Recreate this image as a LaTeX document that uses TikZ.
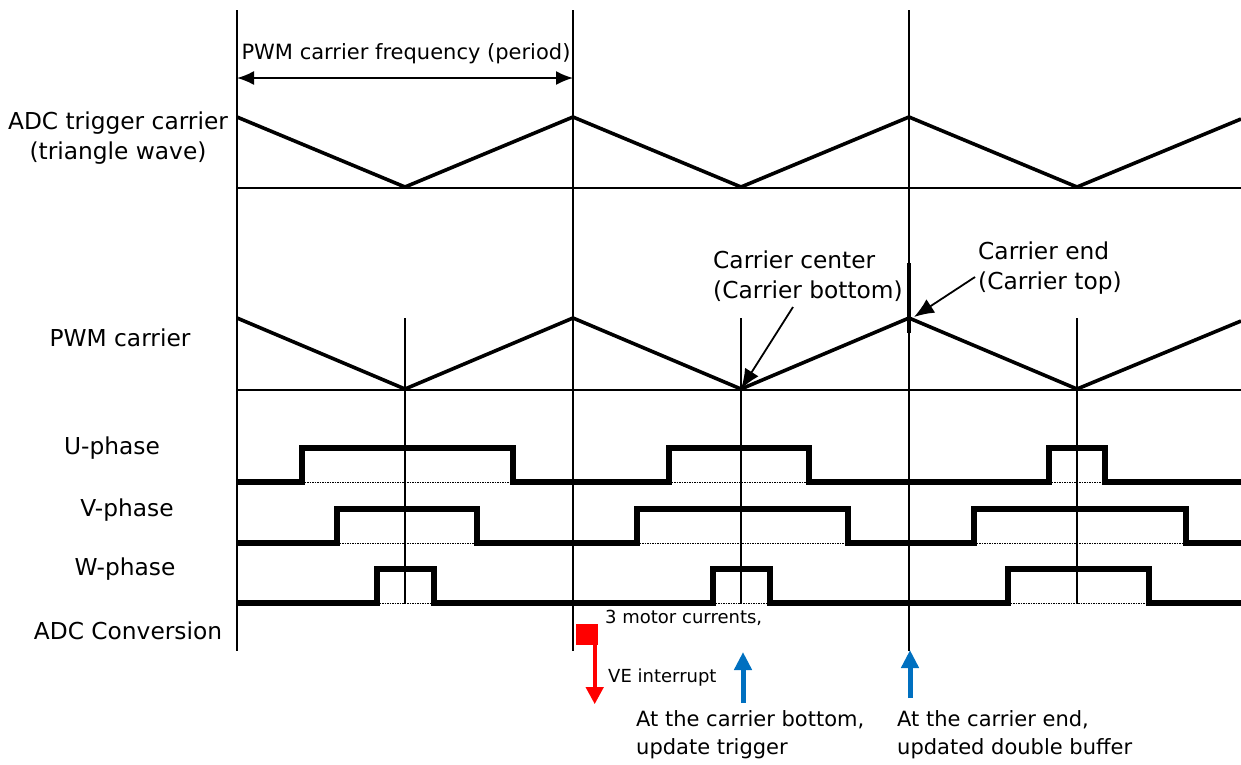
\documentclass[tikz,border=0pt]{standalone}
\usepackage{fontspec}
\setmainfont{DejaVu Sans}
\usepackage{xcolor}
\usepackage{tikz}
\usetikzlibrary{calc, arrows.meta, positioning}
\tikzset{
    guide/.style = {black, line width=1.8pt},
    wave/.style = {black, line width=3.6pt, line join=miter},
    pulse/.style = {black, line width=5.4pt, line join=miter},
    dotline/.style = {black, line width=0.8pt, dash pattern=on 1.5pt off 1pt},
    labelnode/.style = {draw=none, fill=none, inner sep=0em, align=center, font=\fontsize{23.3}{30}\selectfont},
    leftnode/.style = {labelnode, align=left, anchor=west},
    smalltextnode/.style = {draw=none, fill=none, inner sep=0em, anchor=west, font=\fontsize{18}{22}\selectfont},
    connect/.style = {black, line width=1.8pt, -{Latex[length=20pt, width=16pt]}},
    period/.style = {black, line width=1.8pt, {Latex[length=17pt, width=14pt]}-{Latex[length=17pt, width=14pt]}},
    updatearrow/.style = {bluearrow, line width=5pt, -{Triangle[length=18pt, width=17pt]}},
    irqarrow/.style = {red, line width=4pt, -{Triangle[length=17pt, width=17pt]}}
}
\definecolor{bluearrow}{RGB}{0, 112, 192}

\begin{document}
\begin{tikzpicture}[x=1pt, y=-1pt]
    \useasboundingbox (0,0) rectangle (1241,764);

    % period guides and centre guides
    \foreach \x in {237, 573, 909}
        \draw [guide] (\x,10) -- (\x,651);
    \foreach \x in {405, 741, 1077}
        \draw [guide] (\x,318) -- (\x,604);
    \draw [black, line width=3.4pt] (909,263) -- (909,333);

    % ADC trigger carrier
    \draw [guide] (237,188) -- (1241,188);
    \draw [wave] (237,117) -- (405,187) -- (573,117) -- (741,187) -- (909,117) -- (1077,187) -- (1241,119);

    % PWM carrier
    \draw [guide] (237,390) -- (1241,390);
    \draw [wave] (237,318) -- (405,389) -- (573,318) -- (741,389) coordinate (bottom)
        -- (909,318) coordinate (top) -- (1077,389) -- (1241,321);

    % U, V, W phases
    \draw [pulse] (237,482) -| (302,448) -| (513,482) -| (669,448) -| (809,482) -| (1049,448) -| (1105,482) -- (1241,482);
    \draw [pulse] (237,543) -| (337,509) -| (477,543) -| (637,509) -| (848,543) -| (974,509) -| (1186,543) -- (1241,543);
    \draw [pulse] (237,603) -| (377,569) -| (434,603) -| (713,569) -| (770,603) -| (1008,569) -| (1149,603) -- (1241,603);
    \foreach \a/\b/\y in {302/513/482, 669/809/482, 1049/1105/482,
                          337/477/543, 637/848/543, 974/1186/543,
                          377/434/603, 713/770/603, 1008/1149/603}
        \draw [dotline] (\a,\y) -- (\b,\y);

    % row labels
    \node [labelnode, name=adctrig] at (118,138) {ADC trigger carrier\\(triangle wave)};
    \node [labelnode, name=pwm] at (120,338) {PWM carrier};
    \node [labelnode, name=uph] at (112,448) {U-phase};
    \node [labelnode, name=vph] at (127,510) {V-phase};
    \node [labelnode, name=wph] at (125,569) {W-phase};
    \node [labelnode, name=adcconv] at (128,631) {ADC Conversion};

    % period
    \coordinate (p0) at (237,78);
    \coordinate (p1) at (573,78);
    \draw [period] (p0) -- (p1);
    \node [smalltextnode, font=\fontsize{21}{25}\selectfont, anchor=center, name=periodlabel] at (406,54) {PWM carrier frequency (period)};

    % carrier annotations
    \node [leftnode, name=center] at (713,276) {Carrier center\\(Carrier bottom)};
    \node [leftnode, name=end] at (978,268) {Carrier end\\(Carrier top)};
    \coordinate (c0) at (793,307);
    \coordinate (e0) at (975,277);
    \draw [connect] (c0) -- (bottom);
    \draw [connect] (e0) -- ([shift={(5,-1)}]top);

    % ADC conversion and interrupt
    \node [fill=red, inner sep=0em, minimum width=22pt, minimum height=21pt, name=conv] at (586.5,634.5) {};
    \draw [irqarrow] ([xshift=-3pt]conv.south east) -- ++(0,59);
    \node [smalltextnode, name=currents] at (605,618) {3 motor currents,};
    \node [smalltextnode, name=irq] at (608,678) {VE interrupt};

    % update points
    \coordinate (u0) at (743,703);
    \coordinate (u1) at (910,698);
    \draw [updatearrow] (u0) -- (743,652);
    \draw [updatearrow] (u1) -- (910,650);
    \node [leftnode, font=\fontsize{21}{28}\selectfont, name=trigupd] at (636,735) {At the carrier bottom,\\update trigger};
    \node [leftnode, font=\fontsize{21}{28}\selectfont, name=bufupd] at (897,735) {At the carrier end,\\updated double buffer};
\end{tikzpicture}
\end{document}
